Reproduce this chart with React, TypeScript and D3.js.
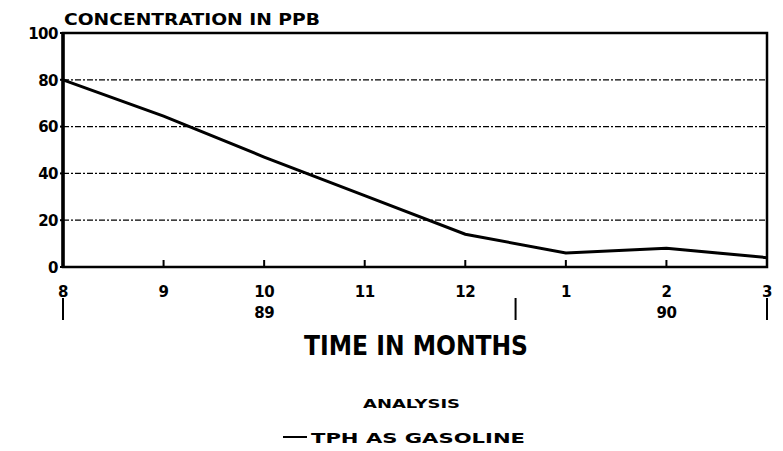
import React from 'react';
import * as d3 from 'd3';

// months along the axis (Aug 89 .. Mar 90)
const months = ['8', '9', '10', '11', '12', '1', '2', '3'];
const tph = [80, 64.5, 47, 30.5, 14, 6, 8, 4];
const yTicks = [0, 20, 40, 60, 80, 100];
const years = [{ at: 2, label: '89' }, { at: 6, label: '90' }];
const dividers = [0, 4.5, 7];

const W = 783, H = 451;
const m = { left: 63, right: 16, top: 33, bottom: 184 };

export default function App() {
  const x = d3.scaleLinear().domain([0, months.length - 1]).range([m.left, W - m.right]);
  const y = d3.scaleLinear().domain([0, 100]).range([H - m.bottom, m.top]);
  const line = d3.line<number>().x((_, i) => x(i)).y(d => y(d));
  const font = '"DejaVu Sans", "Liberation Sans", sans-serif';
  const y0 = y(0);

  return (
    <svg width={W} height={H} style={{ position: 'absolute', left: 0, top: 0, background: '#fff' }}
      fontFamily={font} fontWeight="bold">
      <text x={64} y={25} fontSize={15} textLength={256} lengthAdjust="spacingAndGlyphs">CONCENTRATION IN PPB</text>

      {/* grid */}
      {yTicks.filter(t => t > 0 && t < 100).map(t => (
        <line key={t} x1={x(0)} x2={x(7)} y1={y(t)} y2={y(t)} stroke="#000" strokeWidth={1.3}
          strokeDasharray="6 2 2 2" />
      ))}
      {/* frame */}
      <path d={`M${x(0)},${y(100)} H${x(7)} V${y0} H${x(0)} Z`} fill="none" stroke="#000" strokeWidth={2.5} />
      <line x1={x(0)} x2={x(0)} y1={y(100)} y2={y0} stroke="#000" strokeWidth={3.5} />

      {yTicks.map(t => (
        <g key={t}>
          <line x1={x(0) - 3} x2={x(0)} y1={y(t)} y2={y(t)} stroke="#000" strokeWidth={2} />
          <text x={x(0) - 5} y={y(t)} dy="0.38em" textAnchor="end" fontSize={15} letterSpacing={-0.5}>{t}</text>
        </g>
      ))}

      {months.map((mo, i) => (
        <g key={i}>
          {i > 0 && i < 7 && <line x1={x(i)} x2={x(i)} y1={y0} y2={y0 - 7} stroke="#000" strokeWidth={2} />}
          <text x={x(i)} y={y0 + 30} textAnchor="middle" fontSize={15} letterSpacing={-0.5}>{mo}</text>
        </g>
      ))}
      {years.map(yr => (
        <text key={yr.label} x={x(yr.at)} y={y0 + 51} textAnchor="middle" fontSize={15} letterSpacing={-0.5}>{yr.label}</text>
      ))}
      {dividers.map(d => (
        <line key={d} x1={x(d)} x2={x(d)} y1={y0 + 31} y2={y0 + 53} stroke="#000" strokeWidth={2} />
      ))}

      <path d={line(tph) || ''} fill="none" stroke="#000" strokeWidth={3} />

      <text x={304} y={355} fontSize={26} textLength={224} lengthAdjust="spacingAndGlyphs">TIME IN MONTHS</text>
      <text x={363} y={408} fontSize={13} textLength={97} lengthAdjust="spacingAndGlyphs">ANALYSIS</text>
      <line x1={283} x2={307} y1={437} y2={437} stroke="#000" strokeWidth={2} />
      <text x={311} y={443} fontSize={14} textLength={214} lengthAdjust="spacingAndGlyphs">TPH AS GASOLINE</text>
    </svg>
  );
}
